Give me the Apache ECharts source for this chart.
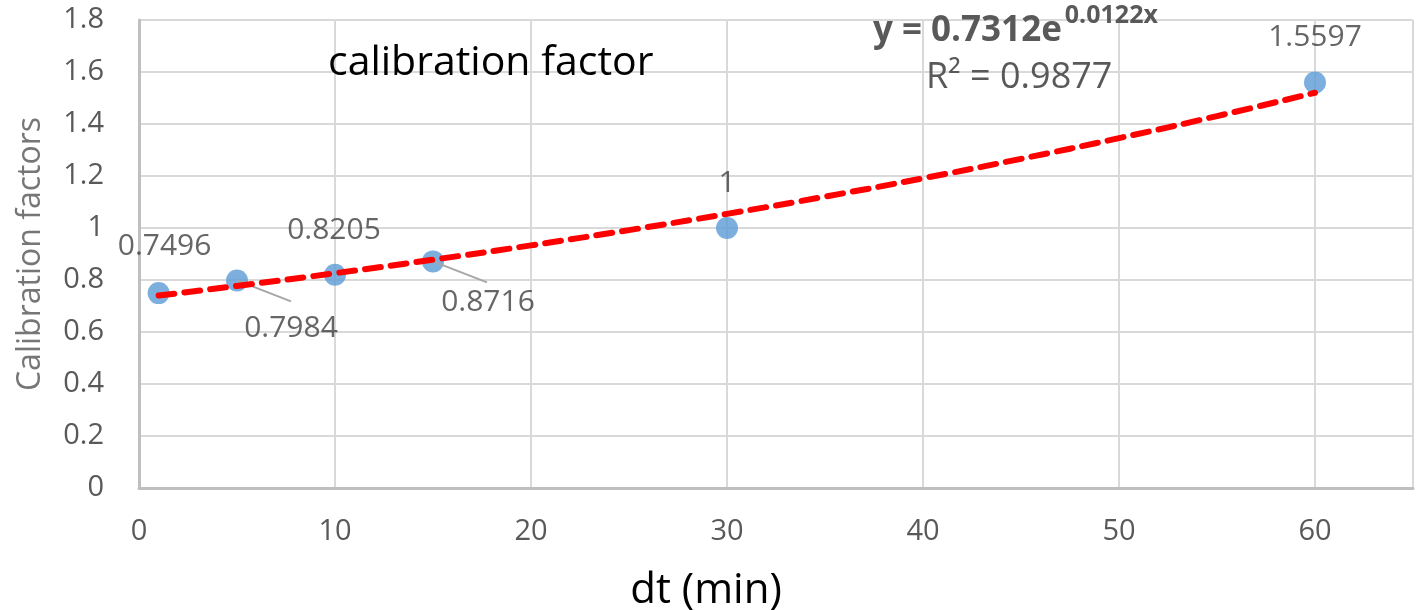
<!DOCTYPE html>
<html>
<head>
<meta charset="utf-8">
<script src="https://cdn.jsdelivr.net/npm/echarts@6/dist/echarts.min.js"></script>
<style>
html,body{margin:0;padding:0;background:#fff;}
#c{width:1418px;height:610px;}
</style>
</head>
<body>
<div id="c"></div>
<script>
// Data
var dtValues = [1, 5, 10, 15, 30, 60];
var factorValues = [0.7496, 0.7984, 0.8205, 0.8716, 1, 1.5597];
var labelTexts = ['0.7496', '0.7984', '0.8205', '0.8716', '1', '1.5597'];
var leaderIndices = [1, 3];
// Trendline printed on the chart: y = 0.7312 e^(0.0122 x), R² = 0.9877
var trendA = 0.7312;
var trendB = 0.0122;
var trendAText = '0.7312';
var trendBText = '0.0122';
var trendR2Text = '0.9877';
var trendXs = [1, 5, 10, 15, 20, 25, 30, 35, 40, 45, 50, 55, 60];

var FONT = 'Open Sans';
var trendData = trendXs.map(function (x) { return [x, trendA * Math.exp(trendB * x)]; });
var pointData = dtValues.map(function (x, i) { return [x, factorValues[i]]; });
var leaderData = leaderIndices.map(function (i) { return [dtValues[i], factorValues[i]]; });

var labelOffsets = [[6, -47], [54, 48], [-1, -44], [55, 41], [0, -45], [0, -45]];
var leaderVec = [54, 21];

var chart = echarts.init(document.getElementById('c'), null, {renderer: 'canvas'});
chart.setOption({
  animation: false,
  backgroundColor: '#ffffff',
  textStyle: {fontFamily: FONT},
  title: [
    {text: 'calibration factor', left: 323, top: 38,
     textStyle: {fontFamily: FONT, fontSize: 41, fontWeight: 'normal', color: '#000000'}},
    {text: '{b|y = ' + trendAText + 'e}{s|' + trendBText + 'x}',
     left: 868, top: -2,
     textStyle: {rich: {
       b: {fontFamily: FONT, fontSize: 35, fontWeight: 'bold', color: '#595959', verticalAlign: 'bottom', lineHeight: 46},
       s: {fontFamily: FONT, fontSize: 25, fontWeight: 'bold', color: '#595959', verticalAlign: 'top', lineHeight: 46, padding: [0, 0, 5, 3]}
     }}},
    {text: 'R² = ' + trendR2Text, left: 921, top: 55,
     textStyle: {fontFamily: FONT, fontSize: 36, fontWeight: 'normal', color: '#595959'}}
  ],
  grid: {left: 139, right: 5, top: 20, bottom: 122, containLabel: false, outerBoundsMode: 'none'},
  xAxis: {
    type: 'value', min: 0, max: 65, interval: 10,
    name: 'dt (min)', nameLocation: 'middle', nameGap: 82,
    nameTextStyle: {fontFamily: FONT, fontSize: 42, color: '#000000', padding: [0, 140, 0, 0]},
    axisLine: {show: true, onZero: false, lineStyle: {color: '#bfbfbf', width: 3}},
    axisTick: {show: false},
    axisLabel: {fontFamily: FONT, fontSize: 29, color: '#595959', margin: 29, showMaxLabel: false},
    splitLine: {show: true, lineStyle: {color: '#d9d9d9', width: 2}}
  },
  yAxis: {
    type: 'value', min: 0, max: 1.8, interval: 0.2,
    name: 'Calibration factors', nameLocation: 'middle', nameGap: 92,
    nameTextStyle: {fontFamily: FONT, fontSize: 32, color: '#767676'},
    axisLine: {show: true, lineStyle: {color: '#bfbfbf', width: 3}},
    axisTick: {show: false},
    axisLabel: {fontFamily: FONT, fontSize: 29, color: '#595959', margin: 35},
    splitLine: {show: true, lineStyle: {color: '#d9d9d9', width: 2}}
  },
  series: [
    {
      type: 'scatter', name: 'points', data: pointData, z: 2,
      symbol: 'circle', symbolSize: 22,
      itemStyle: {color: '#5b9bd5'},
      label: {show: true, position: 'inside', fontFamily: FONT, fontSize: 30, color: '#404040',
        formatter: function (p) { return labelTexts[p.dataIndex]; }},
      labelLayout: function (p) {
        var o = labelOffsets[p.dataIndex];
        return {dx: o[0], dy: o[1]};
      }
    },
    {
      type: 'custom', name: 'leaders', data: leaderData, z: 3, silent: true,
      renderItem: function (params, api) {
        var p = api.coord([api.value(0), api.value(1)]);
        return {
          type: 'line',
          shape: {x1: p[0], y1: p[1], x2: p[0] + leaderVec[0], y2: p[1] + leaderVec[1]},
          style: {stroke: '#a6a6a6', lineWidth: 2}
        };
      }
    },
    {
      type: 'line', name: 'trend', data: trendData, z: 4, smooth: true,
      symbol: 'none', silent: true,
      lineStyle: {color: '#ff0000', width: 6, type: [16, 10], cap: 'round'}
    }
  ]
});
</script>
</body>
</html>
